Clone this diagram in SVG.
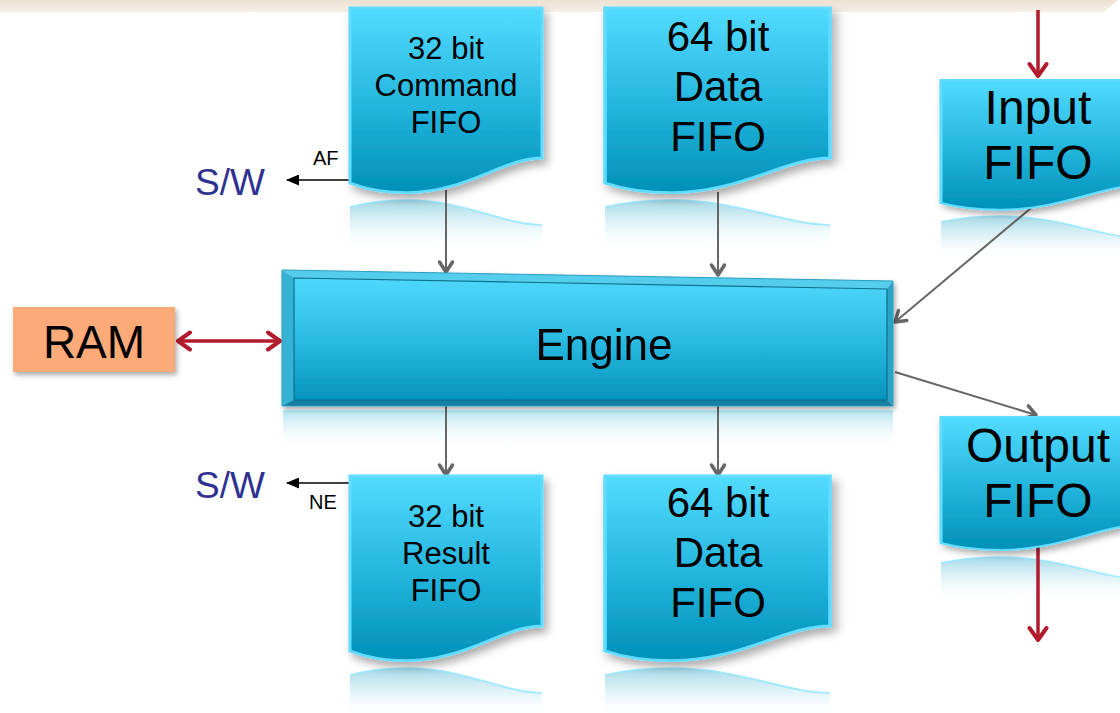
<svg xmlns="http://www.w3.org/2000/svg" width="1120" height="713" viewBox="0 0 1120 713">
  <defs>
    <style>
      .lbl { font-family: "Liberation Sans", Arial, sans-serif; fill: #000; text-anchor: middle; }
      .sw { font-family: "Liberation Sans", Arial, sans-serif; fill: #2e3192; font-size: 37px; }
      .sig { font-family: "Liberation Sans", Arial, sans-serif; fill: #000; font-size: 20px; }
      .doc { fill: url(#fifoFill); stroke: #5fdcff; stroke-width: 1.6; vector-effect: non-scaling-stroke; }
      .refl { fill: url(#reflFill); stroke: none; }
      .reflEdge { fill: none; stroke: #8fe6ff; stroke-width: 1.4; vector-effect: non-scaling-stroke; opacity: 0.8; }
      .gray { stroke: #666; stroke-width: 2; fill: none; marker-end: url(#grayHead); }
      .red { stroke: #b21b2d; stroke-width: 3.5; fill: none; }
      .blk { stroke: #000; stroke-width: 1.5; fill: none; marker-end: url(#blackHead); }
    </style>
    <linearGradient id="band" x1="0" y1="0" x2="0" y2="1">
      <stop offset="0" stop-color="#ece2d2"/>
      <stop offset="1" stop-color="#f6f0e8"/>
    </linearGradient>
    <linearGradient id="fifoFill" x1="0" y1="0" x2="0" y2="1">
      <stop offset="0" stop-color="#52dbff"/>
      <stop offset="0.55" stop-color="#22b4dc"/>
      <stop offset="1" stop-color="#0090b8"/>
    </linearGradient>
    <linearGradient id="reflFill" x1="0" y1="0" x2="0" y2="1">
      <stop offset="0" stop-color="#7cc8dc" stop-opacity="0.7"/>
      <stop offset="0.55" stop-color="#c4e8f1" stop-opacity="0.4"/>
      <stop offset="1" stop-color="#ffffff" stop-opacity="0"/>
    </linearGradient>
    <linearGradient id="engFace" x1="0" y1="0" x2="0" y2="1">
      <stop offset="0" stop-color="#4fd8fd"/>
      <stop offset="0.5" stop-color="#2bbbe2"/>
      <stop offset="1" stop-color="#0494bd"/>
    </linearGradient>
    <linearGradient id="engRefl" x1="0" y1="0" x2="0" y2="1">
      <stop offset="0" stop-color="#9fdcec" stop-opacity="0.75"/>
      <stop offset="1" stop-color="#ffffff" stop-opacity="0"/>
    </linearGradient>
    <filter id="shadow" x="-10%" y="-10%" width="125%" height="130%">
      <feDropShadow dx="2" dy="3" stdDeviation="2.5" flood-color="#000" flood-opacity="0.33"/>
    </filter>
    <!-- document shape in a 100 x 100 box, wavy bottom -->
    <path id="docShape" d="M0,0 H100 V85.7 C80,85.7 60,105.5 30,105.5 C16,105.5 7,103 0,100 Z"/>
    <!-- mirrored wave used for the reflections -->
    <path id="reflShape" d="M0,0 C7,-3 16,-5.5 30,-5.5 C60,-5.5 80,14.3 100,14.3 V34 H0 Z"/>
    <path id="reflWave" d="M0,0 C7,-3 16,-5.5 30,-5.5 C60,-5.5 80,14.3 100,14.3"/>
    <marker id="grayHead" markerUnits="userSpaceOnUse" viewBox="0 0 16 18" markerWidth="16" markerHeight="18" refX="13" refY="9" orient="auto">
      <path d="M3,2.5 L13,9 L3,15.5" fill="none" stroke="#666" stroke-width="3.5" stroke-linecap="round" stroke-linejoin="round"/>
    </marker>
    <marker id="redHead" markerUnits="userSpaceOnUse" viewBox="0 0 18 22" markerWidth="18" markerHeight="22" refX="15" refY="11" orient="auto-start-reverse">
      <path d="M3,2.5 L15,11 L3,19.5" fill="none" stroke="#b21b2d" stroke-width="4" stroke-linecap="round" stroke-linejoin="round"/>
    </marker>
    <marker id="blackHead" markerUnits="userSpaceOnUse" viewBox="0 0 13 11" markerWidth="13" markerHeight="11" refX="12" refY="5.5" orient="auto">
      <path d="M0,0 L13,5.5 L0,11 Z" fill="#000"/>
    </marker>
  </defs>

  <rect width="1120" height="713" fill="#fff"/>
  <!-- header band -->
  <path d="M0,0 H1118 L1104,12 H0 Z" fill="url(#band)"/>

  <!-- reflections -->
  <g id="reflections">
    <g transform="translate(350,207) scale(1.92,1.25)"><use href="#reflShape" class="refl"/><use href="#reflWave" class="reflEdge"/></g>
    <g transform="translate(605,207) scale(2.25,1.25)"><use href="#reflShape" class="refl"/><use href="#reflWave" class="reflEdge"/></g>
    <g transform="translate(941,222) scale(2.0,1.1)"><use href="#reflShape" class="refl"/><use href="#reflWave" class="reflEdge"/></g>
    <g transform="translate(941,563) scale(2.0,1.1)"><use href="#reflShape" class="refl"/><use href="#reflWave" class="reflEdge"/></g>
    <g transform="translate(350,675) scale(1.92,1.25)"><use href="#reflShape" class="refl"/><use href="#reflWave" class="reflEdge"/></g>
    <g transform="translate(605,675) scale(2.25,1.25)"><use href="#reflShape" class="refl"/><use href="#reflWave" class="reflEdge"/></g>
    <rect x="283" y="411" width="610" height="38" fill="url(#engRefl)"/>
    <line x1="283" y1="411" x2="893" y2="411" stroke="#a8ecff" stroke-width="1.5"/>
  </g>

  <!-- connectors -->
  <g id="connectors">
    <line class="gray" x1="446" y1="190" x2="446" y2="272"/>
    <line class="gray" x1="718" y1="192" x2="718" y2="275"/>
    <line class="gray" x1="1037" y1="203" x2="895" y2="322"/>
    <line class="gray" x1="895" y1="372" x2="1036" y2="415"/>
    <line class="gray" x1="446" y1="406" x2="446" y2="475"/>
    <line class="gray" x1="718" y1="406" x2="718" y2="475"/>
    <line class="red" x1="178" y1="341" x2="280" y2="341" marker-start="url(#redHead)" marker-end="url(#redHead)"/>
    <line class="red" x1="1038" y1="10" x2="1038" y2="76" marker-end="url(#redHead)"/>
    <line class="red" x1="1038" y1="545" x2="1038" y2="640" marker-end="url(#redHead)"/>
    <line class="blk" x1="349" y1="180" x2="287" y2="180"/>
    <line class="blk" x1="349" y1="483" x2="287" y2="483"/>
    <text class="sig" x="313" y="165">AF</text>
    <text class="sig" x="309" y="509">NE</text>
  </g>

  <g id="sw-top"><text class="sw" x="195" y="195">S/W</text></g>
  <g id="sw-bottom"><text class="sw" x="195" y="498">S/W</text></g>

  <g id="ram">
    <rect x="13" y="307" width="162" height="65" fill="#fcaa78" filter="url(#shadow)"/>
    <text class="lbl" x="94" y="358" font-size="46">RAM</text>
  </g>

  <g id="engine" filter="url(#shadow)">
    <!-- bevel faces -->
    <path d="M282,270 L893,281 L887,289 L294,278 Z" fill="#54cdec"/>
    <path d="M282,270 L294,278 L294,400 L282,406 Z" fill="#36b2d4"/>
    <path d="M893,281 L893,406 L887,400 L887,289 Z" fill="#2aa3c6"/>
    <path d="M282,406 L893,406 L887,400 L294,400 Z" fill="#137e9e"/>
    <path d="M294,278 L887,289 L887,400 L294,400 Z" fill="url(#engFace)"/>
    <path d="M294,278 L887,289 L887,400 L294,400 Z" fill="none" stroke="#0b6f8c" stroke-width="1.2"/>
    <path d="M282,270 L893,281 L893,406 L282,406 Z" fill="none" stroke="#2a9fc0" stroke-width="1"/>
    <text class="lbl" x="604" y="360" font-size="44">Engine</text>
  </g>

  <g id="cmd-fifo">
    <use href="#docShape" class="doc" filter="url(#shadow)" transform="translate(350,8) scale(1.92,1.75)"/>
    <g class="lbl" font-size="31">
      <text x="446" y="59">32 bit</text>
      <text x="446" y="96">Command</text>
      <text x="446" y="133">FIFO</text>
    </g>
  </g>

  <g id="data-fifo-in">
    <use href="#docShape" class="doc" filter="url(#shadow)" transform="translate(605,8) scale(2.25,1.75)"/>
    <g class="lbl" font-size="42">
      <text x="718" y="51">64 bit</text>
      <text x="718" y="101">Data</text>
      <text x="718" y="151">FIFO</text>
    </g>
  </g>

  <g id="input-fifo">
    <use href="#docShape" class="doc" filter="url(#shadow)" transform="translate(941,80) scale(2.0,1.23)"/>
    <g class="lbl" font-size="48">
      <text x="1038" y="124">Input</text>
      <text x="1038" y="179">FIFO</text>
    </g>
  </g>

  <g id="output-fifo">
    <use href="#docShape" class="doc" filter="url(#shadow)" transform="translate(941,417) scale(2.0,1.26)"/>
    <g class="lbl" font-size="48">
      <text x="1038" y="462">Output</text>
      <text x="1038" y="517">FIFO</text>
    </g>
  </g>

  <g id="result-fifo">
    <use href="#docShape" class="doc" filter="url(#shadow)" transform="translate(350,476) scale(1.92,1.75)"/>
    <g class="lbl" font-size="31">
      <text x="446" y="527">32 bit</text>
      <text x="446" y="564">Result</text>
      <text x="446" y="601">FIFO</text>
    </g>
  </g>

  <g id="data-fifo-out">
    <use href="#docShape" class="doc" filter="url(#shadow)" transform="translate(605,476) scale(2.25,1.75)"/>
    <g class="lbl" font-size="42">
      <text x="718" y="517">64 bit</text>
      <text x="718" y="567">Data</text>
      <text x="718" y="617">FIFO</text>
    </g>
  </g>
</svg>
